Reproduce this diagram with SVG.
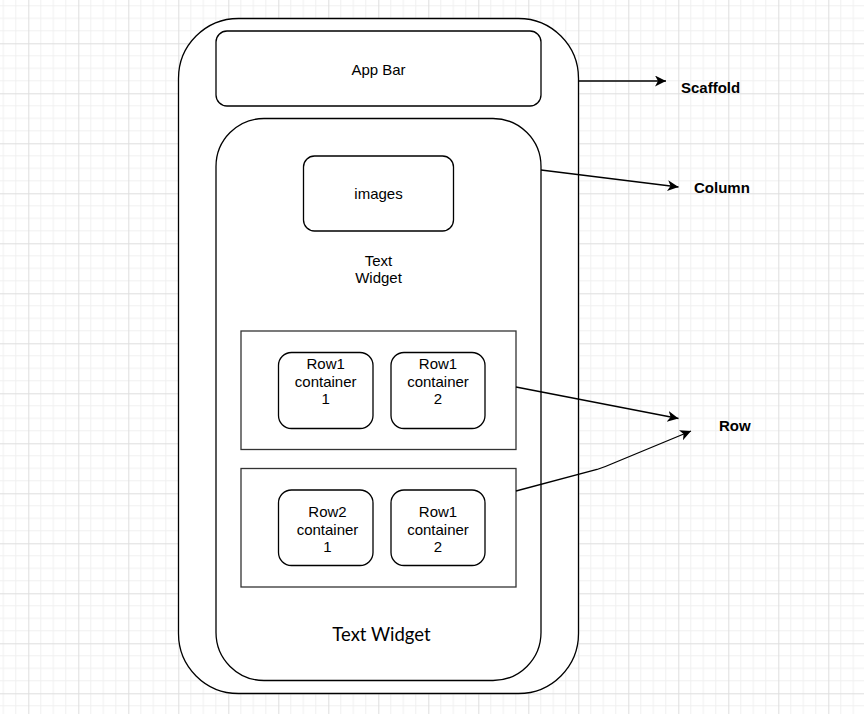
<svg xmlns="http://www.w3.org/2000/svg" width="864" height="714" viewBox="0 0 864 714">
<defs>
<pattern id="grid" patternUnits="userSpaceOnUse" x="28.3" y="43.3" width="50" height="50">
<path d="M12.5,0V50M25,0V50M37.5,0V50M0,12.5H50M0,25H50M0,37.5H50" stroke="#f0f0f0" stroke-width="1" fill="none"/>
<path d="M0.5,0V50M0,0.5H50" stroke="#dedede" stroke-width="1" fill="none"/>
</pattern>
<marker id="arr" markerUnits="userSpaceOnUse" markerWidth="12" markerHeight="12" refX="11" refY="5.5" orient="auto">
<path d="M0,0 L11,5.5 L0,11 L3,5.5 Z" fill="#000"/>
</marker>
<style>
.box{fill:#fff;stroke:#000;stroke-width:1.3}
.row{fill:#fff;stroke:#333;stroke-width:1.3}
.t{font-family:"Liberation Sans",Arial,sans-serif;font-size:15px;fill:#000;text-anchor:middle}
.lbl{font-family:"Liberation Sans",Arial,sans-serif;font-size:15px;font-weight:bold;fill:#000}
.edge{fill:none;stroke:#000;stroke-width:1.3}
</style>
</defs>
<rect width="864" height="714" fill="#fff"/>
<rect width="864" height="714" fill="url(#grid)"/>

<g id="scaffold"><rect class="box" x="178.5" y="18.5" width="400" height="675" rx="60" ry="60"/></g>
<g id="appbar"><rect class="box" x="216" y="31" width="325" height="75" rx="11" ry="11"/><text class="t" x="378.5" y="74.5">App Bar</text></g>
<g id="column"><rect class="box" x="216" y="118.5" width="325" height="562" rx="48" ry="48"/></g>
<g id="images"><rect class="box" x="303.5" y="156" width="150" height="75" rx="11" ry="11"/><text class="t" x="378.5" y="199">images</text></g>
<g id="textwidget1"><text class="t" x="378.5" y="266">Text</text><text class="t" x="378.5" y="283">Widget</text></g>
<g id="row1"><rect class="row" x="241" y="331" width="275" height="118.5"/></g>
<g id="row1c1"><rect class="box" x="278.5" y="352.5" width="94.5" height="76" rx="13" ry="13"/><text class="t" x="325.7" y="369">Row1</text><text class="t" x="325.7" y="386.5">container</text><text class="t" x="325.7" y="404">1</text></g>
<g id="row1c2"><rect class="box" x="391" y="352.5" width="94" height="76" rx="13" ry="13"/><text class="t" x="438" y="369">Row1</text><text class="t" x="438" y="386.5">container</text><text class="t" x="438" y="404">2</text></g>
<g id="row2"><rect class="row" x="241" y="468.5" width="275" height="118.5"/></g>
<g id="row2c1"><rect class="box" x="278.5" y="490" width="94.5" height="75.5" rx="13" ry="13"/><text class="t" x="327.5" y="517">Row2</text><text class="t" x="327.5" y="534.5">container</text><text class="t" x="327.5" y="552">1</text></g>
<g id="row2c2"><rect class="box" x="391" y="490" width="94" height="75.5" rx="13" ry="13"/><text class="t" x="438" y="517">Row1</text><text class="t" x="438" y="534.5">container</text><text class="t" x="438" y="552">2</text></g>
<g id="textwidget2"><text x="381.5" y="641" style="font-family:Lato,'Noto Sans',sans-serif;font-size:18.5px;fill:#000;text-anchor:middle">Text Widget</text></g>

<g id="lbl-scaffold"><text class="lbl" x="681" y="93">Scaffold</text></g>
<g id="lbl-column"><text class="lbl" x="694" y="193">Column</text></g>
<g id="lbl-row"><text class="lbl" x="719" y="431">Row</text></g>

<g id="connectors">
<path class="edge" d="M578.5,81 L666,81" marker-end="url(#arr)"/>
<path class="edge" d="M541,170 L678.5,187" marker-end="url(#arr)"/>
<path class="edge" d="M516,387 L678.5,418.5" marker-end="url(#arr)"/>
<path class="edge" d="M516,491 L597,469.5 Q606,466.5 615,462.5 L691,431" marker-end="url(#arr)"/>
</g>
</svg>
